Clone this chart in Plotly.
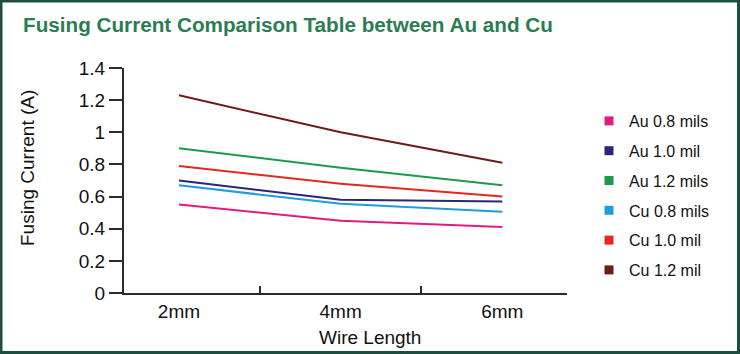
import plotly.graph_objects as go

# ---- data ----
categories = ["2mm", "4mm", "6mm"]
series_names = ["Au 0.8 mils", "Au 1.0 mil", "Au 1.2 mils", "Cu 0.8 mils", "Cu 1.0 mil", "Cu 1.2 mil"]
au_08 = [0.55, 0.45, 0.41]
au_10 = [0.70, 0.58, 0.57]
au_12 = [0.90, 0.78, 0.67]
cu_08 = [0.67, 0.555, 0.505]
cu_10 = [0.79, 0.68, 0.60]
cu_12 = [1.23, 1.00, 0.81]
series_values = [au_08, au_10, au_12, cu_08, cu_10, cu_12]
colors = ["#e11b80", "#2a2677", "#1d9a4c", "#1d9de0", "#e2291f", "#6d1c17"]
y_ticks = [0, 0.2, 0.4, 0.6, 0.8, 1, 1.2, 1.4]
y_tick_text = ["0", "0.2", "0.4", "0.6", "0.8", "1", "1.2", "1.4"]

W, H = 740, 354
ML, MR, MT, MB = 124, 173, 68, 61
PW, PH = W - ML - MR, H - MT - MB

FONT = "Liberation Sans, Arial, sans-serif"
AXIS_COLOR = "#2b2b2b"
TEXT_COLOR = "#111111"

fig = go.Figure()
xpos = list(range(len(categories)))
for name, vals, col in zip(series_names, series_values, colors):
    fig.add_trace(go.Scatter(
        x=xpos, y=vals, mode="lines", name=name,
        line=dict(color=col, width=2), showlegend=False, legendgroup=name,
    ))
    fig.add_trace(go.Scatter(
        x=[None], y=[None], mode="markers", name=name, legendgroup=name,
        marker=dict(symbol="square", size=9, color=col), showlegend=True,
    ))

fig.update_layout(
    width=W, height=H,
    margin=dict(l=ML, r=MR, t=MT, b=MB, autoexpand=False),
    paper_bgcolor="white", plot_bgcolor="white",
    font=dict(family=FONT, color=TEXT_COLOR),
    showlegend=True,
    legend=dict(
        x=(609 - 20 - ML) / PW, xanchor="left",
        y=1 - (104 - MT) / PH, yanchor="top",
        font=dict(size=16, color=TEXT_COLOR, family=FONT),
        tracegroupgap=6, bgcolor="rgba(0,0,0,0)",
    ),
    xaxis=dict(
        range=[-0.34, 2.40], showgrid=False, zeroline=False,
        showline=True, linecolor=AXIS_COLOR, linewidth=2,
        tickmode="array", tickvals=xpos, ticktext=categories, ticks="",
        tickfont=dict(size=19, color=TEXT_COLOR),
        minor=dict(tickmode="array", tickvals=[0.5, 1.5], ticks="inside",
                   ticklen=7, tickwidth=1.5, tickcolor=AXIS_COLOR),
    ),
    yaxis=dict(
        range=[0, 1.4], showgrid=False, zeroline=False,
        showline=True, linecolor=AXIS_COLOR, linewidth=2,
        tickmode="array", tickvals=y_ticks, ticktext=y_tick_text,
        ticks="outside", ticklen=13, tickwidth=1.5, tickcolor=AXIS_COLOR,
        tickfont=dict(size=19, color=TEXT_COLOR),
    ),
    annotations=[
        dict(text="<b>Fusing Current Comparison Table between Au and Cu</b>",
             xref="paper", yref="paper",
             x=(21 - ML) / PW, y=1 + (MT - 25) / PH,
             xanchor="left", yanchor="middle", showarrow=False,
             font=dict(size=20.7, color="#2b7d52", family=FONT)),
        dict(text="Wire Length", xref="paper", yref="paper",
             x=(370 - ML) / PW, y=-(337 - MT - PH) / PH,
             xanchor="center", yanchor="middle", showarrow=False,
             font=dict(size=19, color=TEXT_COLOR, family=FONT)),
        dict(text="Fusing Current (A)", xref="paper", yref="paper",
             x=(27 - ML) / PW, y=1 - (168 - MT) / PH, textangle=-90,
             xanchor="center", yanchor="middle", showarrow=False,
             font=dict(size=19, color=TEXT_COLOR, family=FONT)),
    ],
    shapes=[
        dict(type="rect", xref="paper", yref="paper", layer="above",
             x0=(1 - ML) / PW, x1=1 + (MR - 1.5) / PW,
             y0=-(MB - 1.5) / PH, y1=1 + (MT - 1) / PH,
             line=dict(color="#1f4e40", width=3), fillcolor="rgba(0,0,0,0)"),
    ],
)

fig.write_html("out.html")
